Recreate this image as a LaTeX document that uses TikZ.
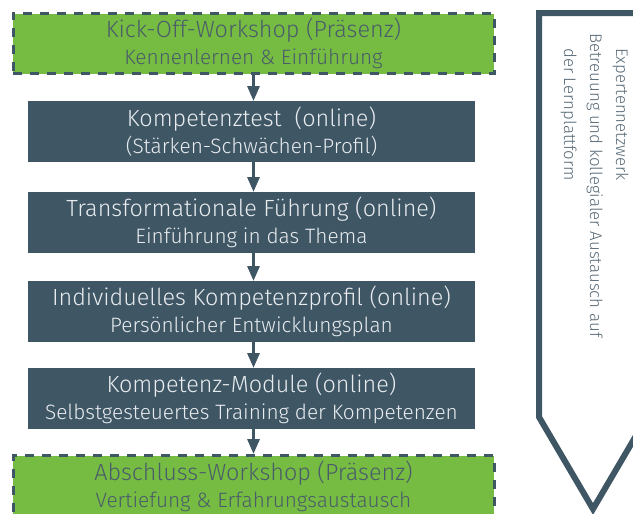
\documentclass[tikz,border=0pt]{standalone}
\usepackage{fontspec}
\setmainfont{Fira Sans Light}
\usetikzlibrary{arrows.meta}
\definecolor{slate}{HTML}{3F5665}
\definecolor{lgreen}{HTML}{76BC43}
\definecolor{gtext}{HTML}{4A5C6A}
\definecolor{wtext}{HTML}{E8ECEF}
\definecolor{rtext}{HTML}{596B78}
\tikzset{
  boxfont/.style={font=\fontsize{21pt}{27pt}\selectfont},
  greenbox/.style={boxfont, draw=slate, fill=lgreen, line width=3pt, dash pattern=on 9pt off 8pt,
    minimum width=481pt, minimum height=60pt, inner sep=0pt, align=center, text=gtext},
  darkbox/.style={boxfont, fill=slate, minimum width=447pt, minimum height=61pt, inner sep=0pt,
    align=center, text=wtext},
  flowarrow/.style={draw=slate, line width=3pt, -{Triangle[width=12pt,length=15pt]}},
  sidetext/.style={rotate=-90, anchor=base west, text=rtext, font=\fontsize{16.8pt}{22pt}\selectfont, inner sep=0pt},
}
\newcommand{\mainline}[1]{{\fontsize{23.4pt}{27pt}\selectfont #1}}
\newcommand{\subline}[1]{{\fontsize{20.8pt}{27pt}\selectfont #1}}
\begin{document}
\begin{tikzpicture}[x=1pt,y=-1pt]
\useasboundingbox (0,0) rectangle (633,514);
\begin{scope}
\clip (0,0) rectangle (633,514);
\node[greenbox, anchor=north] (k) at (253.5,12) {\mainline{Kick-Off-Workshop (Präsenz)}\\\subline{Kennenlernen \& Einführung}};
\node[darkbox, anchor=north] (t) at (251.5,101) {\mainline{Kompetenztest\ \ (online)}\\\subline{(Stärken-Schwächen-Profil)}};
\node[darkbox, anchor=north] (f) at (251.5,192) {\mainline{Transformationale Führung (online)}\\\subline{Einführung in das Thema}};
\node[darkbox, anchor=north] (p) at (251.5,281) {\mainline{Individuelles Kompetenzprofil (online)}\\\subline{Persönlicher Entwicklungsplan}};
\node[darkbox, anchor=north] (m) at (251.5,368) {\mainline{Kompetenz-Module (online)}\\\subline{Selbstgesteuertes Training der Kompetenzen}};
\node[greenbox, anchor=north, minimum height=62pt] (a) at (253.5,454) {\mainline{Abschluss-Workshop (Präsenz)}\\\subline{Vertiefung \& Erfahrungsaustausch}};
\draw[flowarrow] (k.south -| 253.5,0) -- (t.north -| 253.5,0);
\draw[flowarrow] (t.south -| 253.5,0) -- (f.north -| 253.5,0);
\draw[flowarrow] (f.south -| 253.5,0) -- (p.north -| 253.5,0);
\draw[flowarrow] (p.south -| 253.5,0) -- (m.north -| 253.5,0);
\draw[flowarrow] (m.south -| 253.5,0) -- (a.north -| 253.5,0);
\coordinate (s1) at (670,13);
\coordinate (s2) at (539,13);
\coordinate (s3) at (539,417);
\coordinate (s4) at (593,509);
\coordinate (s5) at (647,417);
\coordinate (s6) at (647,13);
\draw[slate, line width=6pt, line join=miter] (s1) -- (s2) -- (s3) -- (s4) -- (s5) -- (s6);
\node[sidetext] (e1) at (616,48) {Expertennetzwerk};
\node[sidetext] (e2) at (590,33) {Betreuung und kollegialer Austausch auf};
\node[sidetext] (e3) at (564,48) {der Lernplattform};
\end{scope}
\end{tikzpicture}
\end{document}
